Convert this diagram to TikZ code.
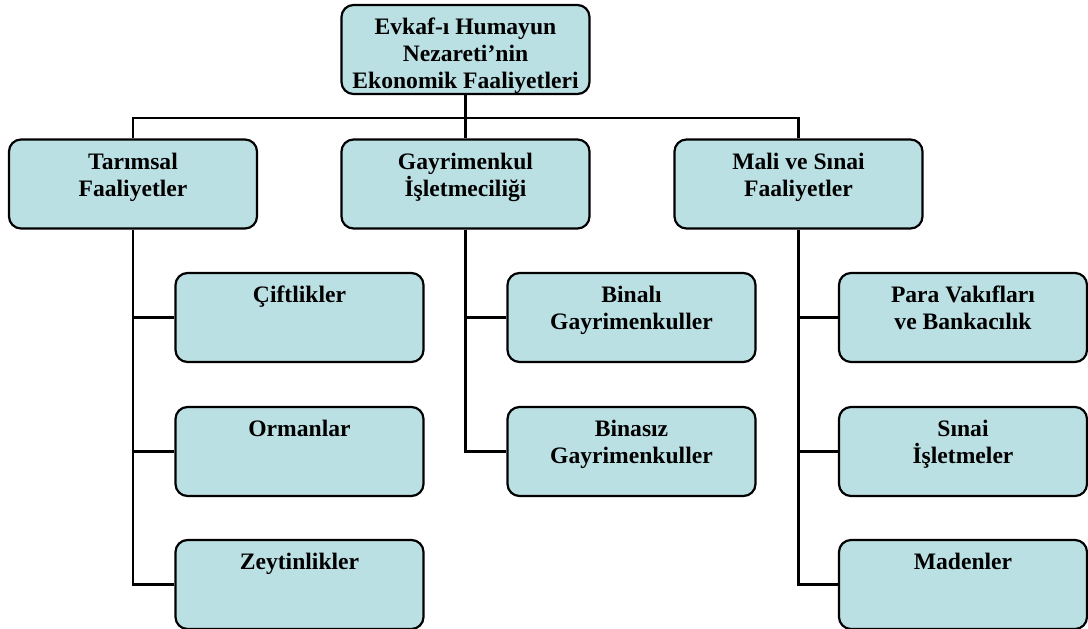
\documentclass[tikz,border=0pt]{standalone}
\usepackage{fontspec}
\setmainfont{Liberation Serif}
\definecolor{boxfill}{RGB}{187,224,227}
\tikzset{
  box/.style={draw=black, line width=2.2pt, fill=boxfill, rounded corners=12pt,
    inner sep=0pt, minimum width=248pt, minimum height=89pt},
  link/.style={draw=black, line width=2.2pt},
}
\newcommand{\boxtext}[1]{\parbox[c][89pt][t]{246pt}{\centering\fontsize{23.6pt}{27pt}\selectfont\bfseries\lineskiplimit=-100pt\vspace*{11pt}\strut #1}}
\begin{document}
\begin{tikzpicture}[x=1pt,y=-1pt]
\useasboundingbox (0,0) rectangle (1088,629);
\node[box] (top) at (465.5,49.5) {\boxtext{Evkaf-ı Humayun\\ Nezareti’nin\\ Ekonomik Faaliyetleri}};
\node[box] (tar) at (133,184) {\boxtext{Tarımsal\\ Faaliyetler}};
\node[box] (gay) at (465.5,184) {\boxtext{Gayrimenkul\\ İşletmeciliği}};
\node[box] (mal) at (798.5,184) {\boxtext{Mali ve Sınai\\ Faaliyetler}};
\node[box] (c1) at (299.5,317.5) {\boxtext{Çiftlikler}};
\node[box] (c2) at (299.5,451.5) {\boxtext{Ormanlar}};
\node[box] (c3) at (299.5,584.5) {\boxtext{Zeytinlikler}};
\node[box] (m1) at (631.5,317.5) {\boxtext{Binalı\\ Gayrimenkuller}};
\node[box] (m2) at (631.5,451.5) {\boxtext{Binasız\\ Gayrimenkuller}};
\node[box] (r1) at (963,317.5) {\boxtext{Para Vakıfları\\ ve Bankacılık}};
\node[box] (r2) at (963,451.5) {\boxtext{Sınai\\ İşletmeler}};
\node[box] (r3) at (963,584.5) {\boxtext{Madenler}};
\coordinate (hb) at (0,118);
\draw[link] (top.south) -- (gay.north);
\draw[link] (tar.north) -- (tar.north |- hb) -| (mal.north);
\draw[link] (tar.south) |- (c3.west);
\draw[link] (tar.south |- c1.west) -- (c1.west);
\draw[link] (tar.south |- c2.west) -- (c2.west);
\draw[link] (gay.south) |- (m2.west);
\draw[link] (gay.south |- m1.west) -- (m1.west);
\draw[link] (mal.south) |- (r3.west);
\draw[link] (mal.south |- r1.west) -- (r1.west);
\draw[link] (mal.south |- r2.west) -- (r2.west);
\end{tikzpicture}
\end{document}
